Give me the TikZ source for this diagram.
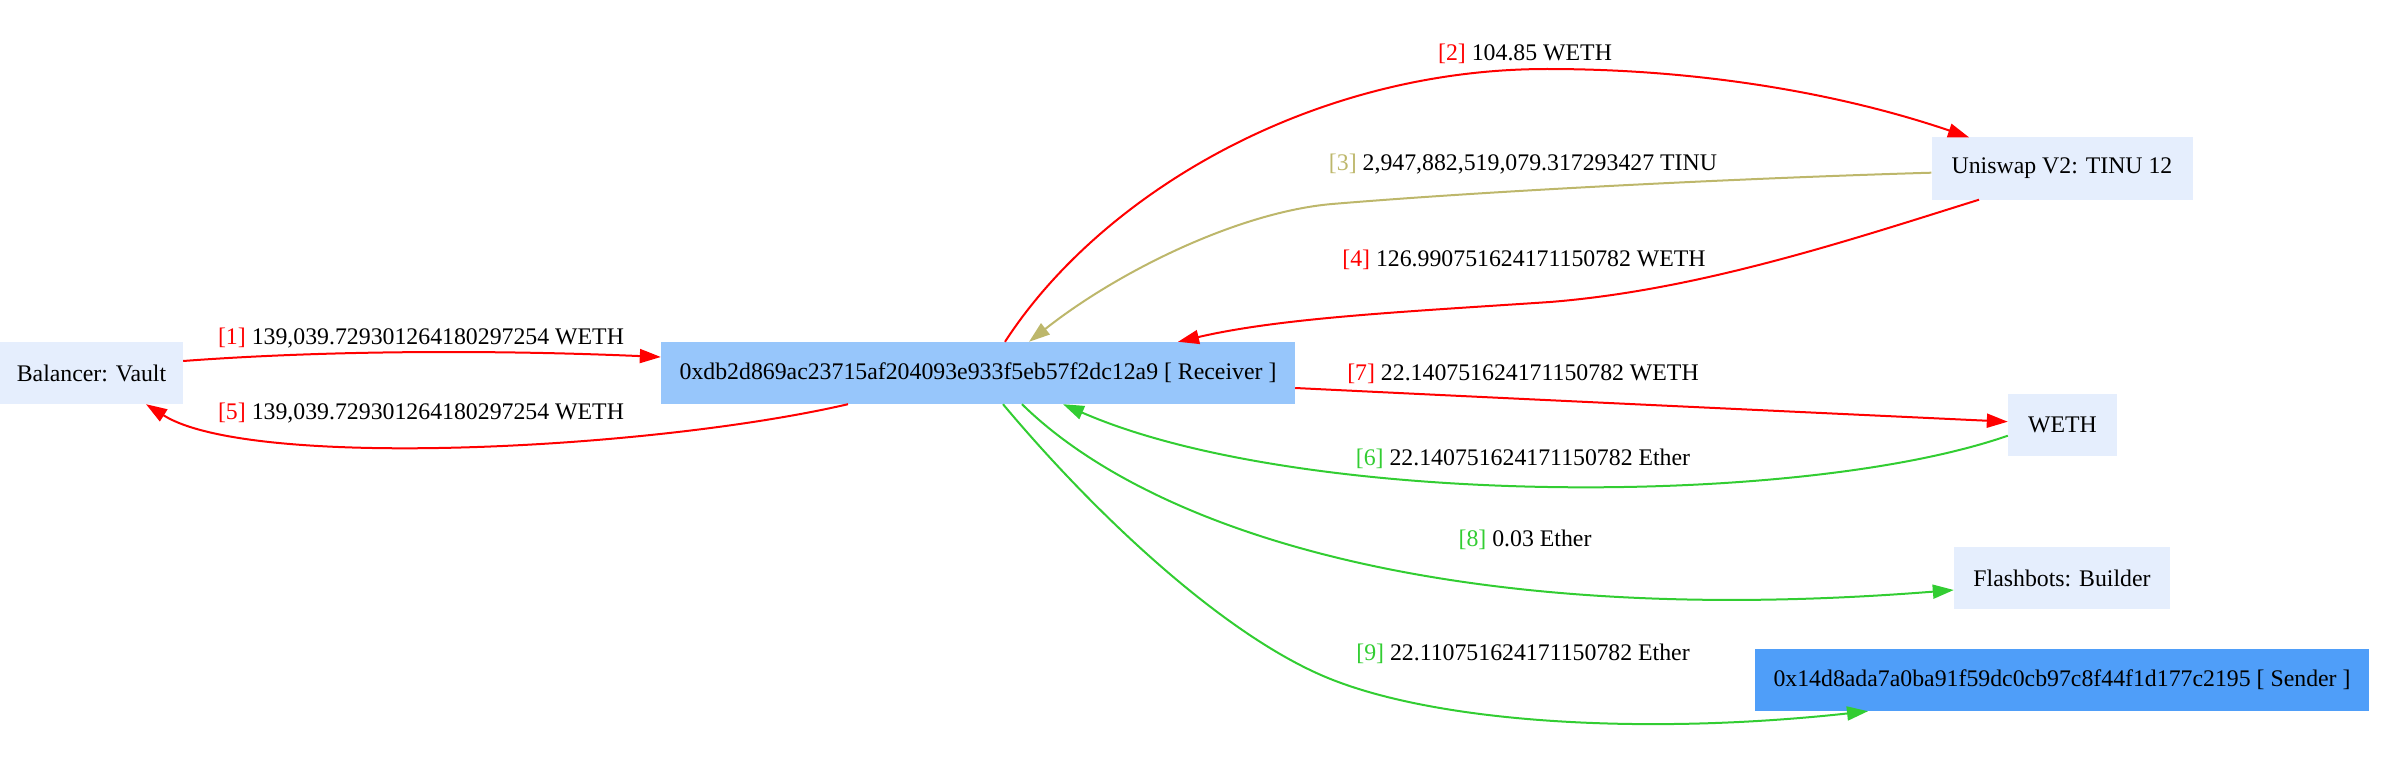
\documentclass[tikz,border=0pt]{standalone}
\usepackage{fontspec}
\setmainfont{Liberation Serif}
\usetikzlibrary{arrows.meta}
\definecolor{nodelight}{HTML}{E5EEFD}
\definecolor{nodercv}{HTML}{97C6FB}
\definecolor{nodesnd}{HTML}{4F9EF9}
\definecolor{edgered}{HTML}{FF0000}
\definecolor{edgekhaki}{HTML}{BDB76B}
\definecolor{edgegreen}{HTML}{32CD32}
\begin{document}
\begin{tikzpicture}[x=1pt,y=-1pt,
  box/.style={draw=none, inner sep=0pt, minimum height=62pt, font=\fontsize{23.8}{28}\selectfont},
  lbl/.style={inner sep=0pt, font=\fontsize{23.8}{28}\selectfont},
  flow/.style={line width=2pt, -{Triangle[length=21pt,width=14pt]}}]
\useasboundingbox (0,0) rectangle (2386,781);
% nodes
\node[box, fill=nodelight, minimum width=183pt] (bal) at (91.5,373) {Balancer: Vault};
\node[box, fill=nodercv, minimum width=634pt] (rec) at (978,373) {0xdb2d869ac23715af204093e933f5eb57f2dc12a9 [ Receiver ]};
\node[box, fill=nodelight, minimum width=261pt] (uni) at (2062,168.5) {Uniswap V2: TINU 12};
\node[box, fill=nodelight, minimum width=109pt] (weth) at (2062.5,424.5) {WETH};
\node[box, fill=nodelight, minimum width=216pt] (fb) at (2062,578) {Flashbots: Builder};
\node[box, fill=nodesnd, minimum width=614pt] (snd) at (2062,680) {0x14d8ada7a0ba91f59dc0cb97c8f44f1d177c2195 [ Sender ]};
% edges
\draw[flow, edgered] (bal.east |- 0,361) .. controls (330,350) and (500,350) .. (rec.west |- 0,357);
\node[lbl] (l1) at (421,338.5) {\textcolor{edgered}{[1]} 139,039.729301264180297254 WETH};

\draw[flow, edgered] (1005,0 |- rec.north) .. controls (1100,195) and (1310,69) .. (1547,69) .. controls (1720,69) and (1860,100) .. (1969,0 |- uni.north);
\node[lbl] (l2) at (1525,53.5) {\textcolor{edgered}{[2]} 104.85 WETH};

\draw[flow, edgekhaki] (uni.west |- 0,172.7) .. controls (1750,178) and (1500,190) .. (1332,204) .. controls (1240,212) and (1120,270) .. (1029,0 |- rec.north);
\node[lbl] (l3) at (1523,164) {\textcolor{edgekhaki}{[3]} 2,947,882,519,079.317293427 TINU};

\draw[flow, edgered] (1979,0 |- uni.south) .. controls (1850,240) and (1700,290) .. (1550,302) .. controls (1400,312) and (1280,318) .. (1178,0 |- rec.north);
\node[lbl] (l4) at (1524,260) {\textcolor{edgered}{[4]} 126.990751624171150782 WETH};

\draw[flow, edgered] (848,0 |- rec.south) .. controls (650,450) and (250,470) .. (146,0 |- bal.south);
\node[lbl] (l5) at (421,413) {\textcolor{edgered}{[5]} 139,039.729301264180297254 WETH};

\draw[flow, edgegreen] (weth.west |- 0,435.7) .. controls (1800,508) and (1300,508) .. (1063,0 |- rec.south);
\node[lbl] (l6) at (1523,458.5) {\textcolor{edgegreen}{[6]} 22.140751624171150782 Ether};

\draw[flow, edgered] (rec.east |- 0,388) .. controls (1500,398) and (1800,412) .. (weth.west |- 0,421.7);
\node[lbl] (l7) at (1523,374) {\textcolor{edgered}{[7]} 22.140751624171150782 WETH};

\draw[flow, edgegreen] (1022,0 |- rec.south) .. controls (1150,530) and (1450,630) .. (fb.west |- 0,590);
\node[lbl] (l8) at (1525,540) {\textcolor{edgegreen}{[8]} 0.03 Ether};

\draw[flow, edgegreen] (1003,0 |- rec.south) .. controls (1100,520) and (1230,640) .. (1333,680) .. controls (1446,724) and (1650,735) .. (1868,0 |- snd.south);
\node[lbl] (l9) at (1523,653.5) {\textcolor{edgegreen}{[9]} 22.110751624171150782 Ether};
\end{tikzpicture}
\end{document}
